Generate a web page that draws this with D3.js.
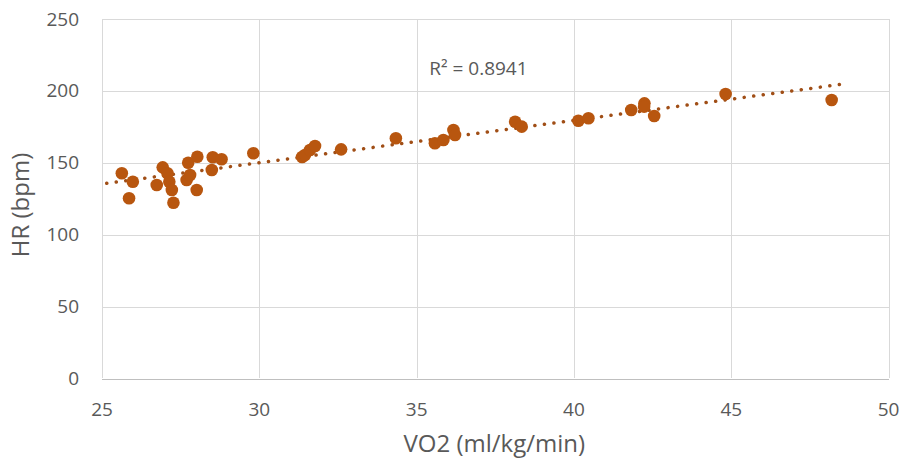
<!DOCTYPE html>
<html lang="en">
  <head>
    <meta charset="utf-8" />
    <title>HR vs VO2</title>
    <script src="https://d3js.org/d3.v7.min.js"></script>
    <style>
      body { margin: 0; background: #fff; font-family: "Open Sans", sans-serif; }
      svg { display: block; }
      .grid line { stroke: #d9d9d9; shape-rendering: crispEdges; }
      .tick-label { fill: #595959; font-size: 19px; }
      .title { fill: #595959; font-size: 24px; }
    </style>
  </head>
  <body>
    <div id="chart"></div>
    <script>
      /* ---------------- DATA ---------------- */
      const vo2 = [
        25.63, 25.98, 25.86, 26.74, 26.93, 27.08, 27.14, 27.22, 27.27, 27.69,
        27.74, 27.8, 28.03, 28.01, 28.49, 28.52, 28.8, 29.81, 31.36, 31.45,
        31.61, 31.77, 32.6, 34.34, 35.58, 35.85, 36.17, 36.22, 38.13, 38.34,
        40.14, 40.46, 41.82, 42.24, 42.23, 42.55, 44.82, 48.19
      ];
      const hr = [
        142.4, 136.5, 125.0, 134.2, 146.5, 142.4, 136.5, 130.7, 121.9, 137.7,
        149.7, 141.2, 153.9, 130.7, 144.6, 153.5, 152.1, 156.3, 153.7, 155.1,
        158.6, 161.3, 159.0, 166.7, 163.2, 165.5, 172.5, 169.0, 178.2, 174.8,
        178.9, 180.6, 186.4, 191.0, 188.7, 182.2, 197.5, 193.3
      ];
      const trendX = [25.15, 48.55];
      const trendY = [135.4, 204.4];
      const xTicks = [25, 30, 35, 40, 45, 50];
      const yTicks = [0, 50, 100, 150, 200, 250];
      const r2Label = "R² = 0.8941";

      /* ---------------- LAYOUT ---------------- */
      const W = 905, H = 468;
      const m = { l: 102, r: 905 - 888.6, t: 18.5, b: 468 - 378 };
      const w = W - m.l - m.r, h = H - m.t - m.b;
      const pointColor = "#b8560f";
      const trendColor = "#a04e16";

      const svg = d3.select("#chart").append("svg")
        .attr("width", W).attr("height", H);
      const g = svg.append("g").attr("transform", `translate(${m.l},${m.t})`);

      const x = d3.scaleLinear().domain([25, 50]).range([0, w]);
      const y = d3.scaleLinear().domain([0, 250]).range([h, 0]);

      /* gridlines */
      const grid = g.append("g").attr("class", "grid");
      grid.selectAll("line.v").data(xTicks).join("line")
        .attr("class", "v")
        .attr("x1", d => Math.round(x(d)) + 0.5).attr("x2", d => Math.round(x(d)) + 0.5)
        .attr("y1", 0).attr("y2", h);
      grid.selectAll("line.h").data(yTicks).join("line")
        .attr("class", "h")
        .attr("y1", d => Math.round(y(d)) + 0.5).attr("y2", d => Math.round(y(d)) + 0.5)
        .attr("x1", 0).attr("x2", w)
        .style("stroke", d => d === 0 ? "#bfbfbf" : null);

      /* tick labels */
      g.selectAll("text.xt").data(xTicks).join("text")
        .attr("class", "tick-label xt")
        .attr("x", d => x(d)).attr("y", h + 38)
        .attr("text-anchor", "middle")
        .text(d => d);
      g.selectAll("text.yt").data(yTicks).join("text")
        .attr("class", "tick-label yt")
        .attr("x", -23).attr("y", d => y(d) + 7)
        .attr("text-anchor", "end")
        .text(d => d);

      /* axis titles */
      svg.append("text").attr("class", "title")
        .attr("x", m.l + w / 2 - 1).attr("y", 452)
        .attr("text-anchor", "middle")
        .text("VO2 (ml/kg/min)");
      svg.append("text").attr("class", "title")
        .attr("transform", `translate(29,205) rotate(-90)`)
        .attr("text-anchor", "middle")
        .text("HR (bpm)");

      /* trendline */
      g.append("path")
        .datum(trendX.map((v, i) => [v, trendY[i]]))
        .attr("fill", "none")
        .attr("stroke", trendColor)
        .attr("stroke-width", 3.5)
        .attr("stroke-linecap", "round")
        .attr("stroke-dasharray", "0.1 9.5")
        .attr("d", d3.line().x(d => x(d[0])).y(d => y(d[1])));

      /* points */
      g.selectAll("circle").data(vo2.map((v, i) => [v, hr[i]])).join("circle")
        .attr("cx", d => x(d[0])).attr("cy", d => y(d[1]))
        .attr("r", 6.3)
        .attr("fill", pointColor);

      /* R² label */
      g.append("text").attr("class", "tick-label")
        .attr("x", x(35.4)).attr("y", y(215) + 6)
        .text(r2Label);
    </script>
  </body>
</html>
